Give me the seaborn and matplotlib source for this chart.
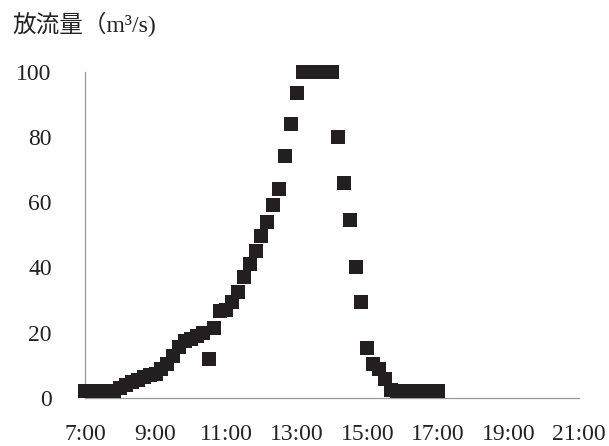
import numpy as np
import pandas as pd
import seaborn as sns
from matplotlib import pyplot as plt

# 観測時刻 (10分毎)
times = ['7:00', '7:10', '7:20', '7:30', '7:40', '7:50',
         '8:00', '8:10', '8:20', '8:30', '8:40', '8:50',
         '9:00', '9:10', '9:20', '9:30', '9:40', '9:50',
         '10:00', '10:10', '10:20', '10:30', '10:40', '10:50',
         '11:00', '11:10', '11:20', '11:30', '11:40', '11:50',
         '12:00', '12:10', '12:20', '12:30', '12:40', '12:50',
         '13:00', '13:10', '13:20', '13:30', '13:40', '13:50',
         '14:00', '14:10', '14:20', '14:30', '14:40', '14:50',
         '15:00', '15:10', '15:20', '15:30', '15:40', '15:50',
         '16:00', '16:10', '16:20', '16:30', '16:40', '16:50',
         '17:00']

# 放流量 (m3/s)
discharge = [2, 2, 2, 2, 2, 2,
             3, 4, 5, 5.5, 6.5, 7,
             7.5, 9, 10.5, 13, 15.5, 17.5,
             18, 19, 20, 12, 21.5, 26.5,
             27, 29.5, 32.5, 37, 41, 45,
             49.5, 54, 59, 64, 74, 84,
             93.5, 100, 100, 100, 100, 100,
             100, 80, 66, 54.5, 40, 29.5,
             15.3, 10.4, 9, 5.8, 2.5, 2,
             2, 2, 2, 2, 2, 2,
             2]

xtick_pos = [7, 9, 11, 13, 15, 17, 19, 21]
xtick_labels = ['7:00', '9:00', '11:00', '13:00', '15:00', '17:00', '19:00', '21:00']
ytick_pos = [0, 20, 40, 60, 80, 100]


def to_hour(s):
    h, m = s.split(':')
    return int(h) + int(m) / 60


df = pd.DataFrame({'hour': [to_hour(t) for t in times], 'q': discharge})

sns.set_style('white')
plt.rcParams['font.family'] = ['Liberation Serif', 'Noto Sans CJK JP']

fig = plt.figure(figsize=(6.09, 4.46), dpi=100)
ax = fig.add_axes([85 / 609, 48 / 446, 494 / 609, 326.5 / 446])

sns.scatterplot(data=df, x='hour', y='q', marker='s', s=95, color='#231f20',
                linewidth=0, ax=ax, clip_on=False, zorder=3)

ax.set_xlim(7, 21)
ax.set_ylim(0, 100)
ax.set_xticks(xtick_pos)
ax.set_xticklabels(xtick_labels)
ax.set_yticks(ytick_pos)
ax.set_xlabel('')
ax.set_ylabel('')

for side in ['top', 'right']:
    ax.spines[side].set_visible(False)
for side in ['left', 'bottom']:
    ax.spines[side].set_color('#9a9a9a')
    ax.spines[side].set_linewidth(0.9)

ax.tick_params(axis='both', direction='in', length=5, width=0.8, color='#9a9a9a',
               labelsize=17, labelcolor='#222222')
ax.tick_params(axis='x', pad=19)
ax.tick_params(axis='y', pad=24)

fig.text(12 / 609, 1 - 24 / 446, '放流量（m³/s)', fontsize=17, color='#222222',
         va='center', ha='left')

fig.savefig('out.png', dpi=100)
